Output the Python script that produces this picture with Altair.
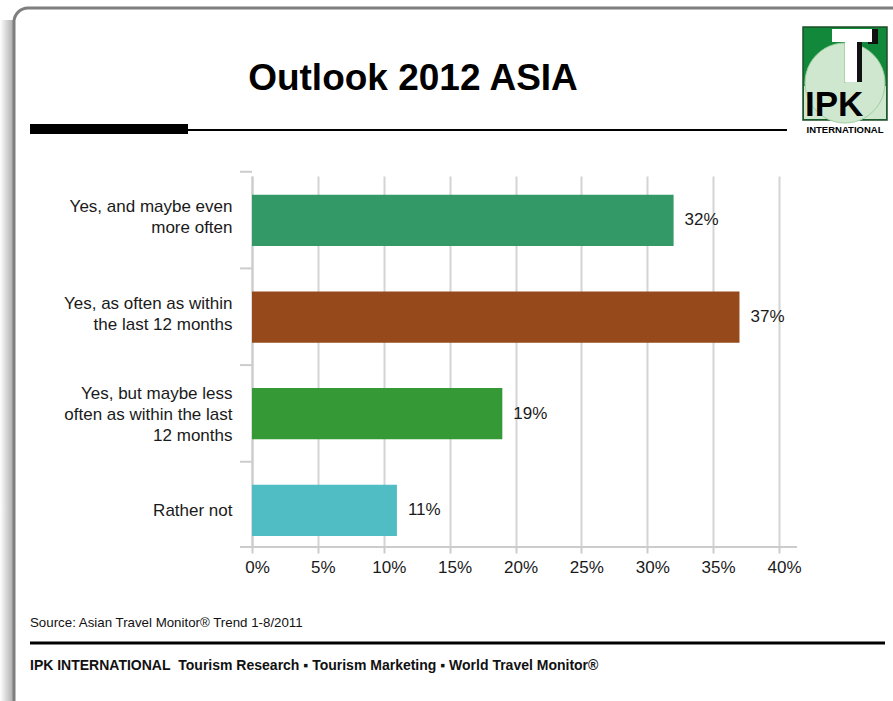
import altair as alt
import pandas as pd

# ---------------- data ----------------
categories = [
    "Yes, and maybe even\nmore often",
    "Yes, as often as within\nthe last 12 months",
    "Yes, but maybe less\noften as within the last\n12 months",
    "Rather not",
]
values = [32, 37, 19, 11]
bar_colors = ["#339966", "#964a1b", "#359a35", "#50bcc4"]
x_ticks = [0, 5, 10, 15, 20, 25, 30, 35, 40]

title_text = "Outlook 2012 ASIA"
source_text = "Source: Asian Travel Monitor® Trend 1-8/2011"
footer_text = "IPK INTERNATIONAL\u00a0\u00a0Tourism Research ▪ Tourism Marketing ▪ World Travel Monitor®"

df = pd.DataFrame({"cat": categories, "val": values,
                   "label": [f"{v}%" for v in values]})
one = pd.DataFrame({"k": [0]})

# ---------------- layout ----------------
W, H = 527, 371
OX, OY = 252, 176
FONT = "Liberation Sans"
TXT = "#1a1a1a"
FS = 17

nlines = "length(split(datum.value, '\\n'))"
yenc = alt.Y(
    "cat:N", sort=categories,
    scale=alt.Scale(paddingInner=0.47, paddingOuter=0.154, align=0.63),
    axis=alt.Axis(title=None, labelExpr="split(datum.label, '\\n')",
                  labelFontSize=FS, labelFont=FONT, labelColor=TXT,
                  labelLineHeight=21, labelPadding=8, labelLimit=300,
                  labelOffset={"condition": [
                      {"test": nlines + " == 3", "value": -20},
                      {"test": nlines + " == 1", "value": 1}],
                      "value": -13},
                  tickSize=12, tickOpacity=0,
                  domainColor="#cccccc", domainWidth=2, grid=False),
)
xenc = alt.X(
    "val:Q", scale=alt.Scale(domain=[0, 40], nice=False),
    axis=alt.Axis(values=x_ticks, title=None, labelExpr="datum.value + '%'",
                  labelFontSize=FS, labelFont=FONT, labelColor=TXT,
                  labelPadding=6, labelOffset=5, labelFlush=False,
                  tickSize=6, tickColor="#cccccc",
                  tickWidth=2, gridColor="#d4d4d4", gridWidth=2, domain=False),
)

base1 = alt.Chart(one)

shadow = base1.mark_rect(
    color=alt.Gradient(gradient="linear", x1=0, x2=1, y1=0, y2=0,
                       stops=[alt.GradientStop(color="#ffffff", offset=0),
                              alt.GradientStop(color="#a8a8a8", offset=1)])
).encode(x=alt.value(-OX), x2=alt.value(14 - OX),
         y=alt.value(20 - OY), y2=alt.value(710 - OY))

frame = base1.mark_rect(fill="#ffffff", fillOpacity=0, stroke="#7f7f7f", strokeWidth=3,
                        cornerRadius=14).encode(
    x=alt.value(14 - OX), x2=alt.value(1000), y=alt.value(8 - OY), y2=alt.value(720 - OY))

title = base1.mark_text(font=FONT, fontSize=37, fontWeight="bold", align="center",
                        baseline="alphabetic", color="#000000").encode(
    x=alt.value(413 - OX), y=alt.value(90 - OY), text=alt.value(title_text))

thick = base1.mark_rect(color="#000000").encode(
    x=alt.value(30 - OX), x2=alt.value(188 - OX), y=alt.value(124 - OY), y2=alt.value(134 - OY))
thin = base1.mark_rule(color="#000000", strokeWidth=2).encode(
    x=alt.value(188 - OX), x2=alt.value(787 - OX), y=alt.value(130 - OY))

# logo
logo_bg = base1.mark_rect(fill="#12893a", stroke="#1d4d28", strokeWidth=1.5).encode(
    x=alt.value(803 - OX), x2=alt.value(887 - OX), y=alt.value(27 - OY), y2=alt.value(120 - OY))
logo_low = base1.mark_rect(fill="#cfe7cf").encode(
    x=alt.value(804 - OX), x2=alt.value(886 - OX), y=alt.value(86 - OY), y2=alt.value(119 - OY))
logo_globe = base1.mark_arc(fill="#cfe7cf", stroke="#9fcf9f", strokeWidth=1).encode(
    x=alt.value(845 - OX), y=alt.value(83 - OY), theta=alt.value(0),
    theta2=alt.value(6.283), radius=alt.value(40))
t_shadow = base1.mark_rect(fill="#111111").encode(
    x=alt.value(857 - OX), x2=alt.value(862 - OX), y=alt.value(40 - OY), y2=alt.value(82 - OY))
t_shadow2 = base1.mark_rect(fill="#111111").encode(
    x=alt.value(868 - OX), x2=alt.value(878 - OX), y=alt.value(29 - OY), y2=alt.value(44 - OY))
t_bar = base1.mark_rect(fill="#ffffff").encode(
    x=alt.value(832 - OX), x2=alt.value(872 - OX), y=alt.value(29 - OY), y2=alt.value(42 - OY))
t_stem = base1.mark_rect(fill="#ffffff").encode(
    x=alt.value(845 - OX), x2=alt.value(857 - OX), y=alt.value(29 - OY), y2=alt.value(82 - OY))
ipk = base1.mark_text(font=FONT, fontSize=35, fontWeight="bold", align="left",
                      baseline="alphabetic", color="#000000").encode(
    x=alt.value(805 - OX), y=alt.value(116 - OY), text=alt.value("IPK"))
intl = base1.mark_text(font=FONT, fontSize=9.5, fontWeight="bold",
                       align="center", baseline="alphabetic", color="#000000").encode(
    x=alt.value(845 - OX), y=alt.value(133 - OY), text=alt.value("INTERNATIONAL"))

# chart
bars = alt.Chart(df).mark_bar().encode(
    x=xenc, y=yenc,
    color=alt.Color("cat:N", scale=alt.Scale(domain=categories, range=bar_colors), legend=None),
)
labels = alt.Chart(df).mark_text(align="left", baseline="middle", dx=11, fontSize=FS,
                                 font=FONT, color=TXT).encode(
    x=alt.X("val:Q"), y=alt.Y("cat:N", sort=categories), text="label:N")

yticks = alt.Chart(df).mark_rule(color="#cccccc", strokeWidth=2).encode(
    y=alt.Y("cat:N", sort=categories), x=alt.value(-12), x2=alt.value(0),
    yOffset=alt.value(-23))

xline = base1.mark_rule(color="#cccccc", strokeWidth=2).encode(
    x=alt.value(-12), x2=alt.value(797 - OX), y=alt.value(H))

source = base1.mark_text(font=FONT, fontSize=13.3, align="left", baseline="alphabetic",
                         color="#111111").encode(
    x=alt.value(30 - OX), y=alt.value(627 - OY), text=alt.value(source_text))
footer_rule = base1.mark_rule(color="#000000", strokeWidth=3).encode(
    x=alt.value(30 - OX), x2=alt.value(885 - OX), y=alt.value(643 - OY))
footer = base1.mark_text(font=FONT, fontSize=14, fontWeight="bold", align="left",
                         baseline="alphabetic", color="#111111").encode(
    x=alt.value(30 - OX), y=alt.value(670 - OY), text=alt.value(footer_text))

chart = alt.layer(
    shadow, frame, title, thick, thin,
    logo_bg, logo_low, logo_globe, t_shadow, t_shadow2, t_bar, t_stem, ipk, intl,
    bars, labels, yticks, xline, source, footer_rule, footer,
).properties(
    width=W, height=H,
    autosize=alt.AutoSizeParams(type="none"),
    padding={"left": OX, "top": OY, "right": 893 - OX - W, "bottom": 701 - OY - H},
).configure(background="#ffffff").configure_view(stroke=None)

chart.save("out.html", embed_options={"renderer": "svg", "actions": False})
